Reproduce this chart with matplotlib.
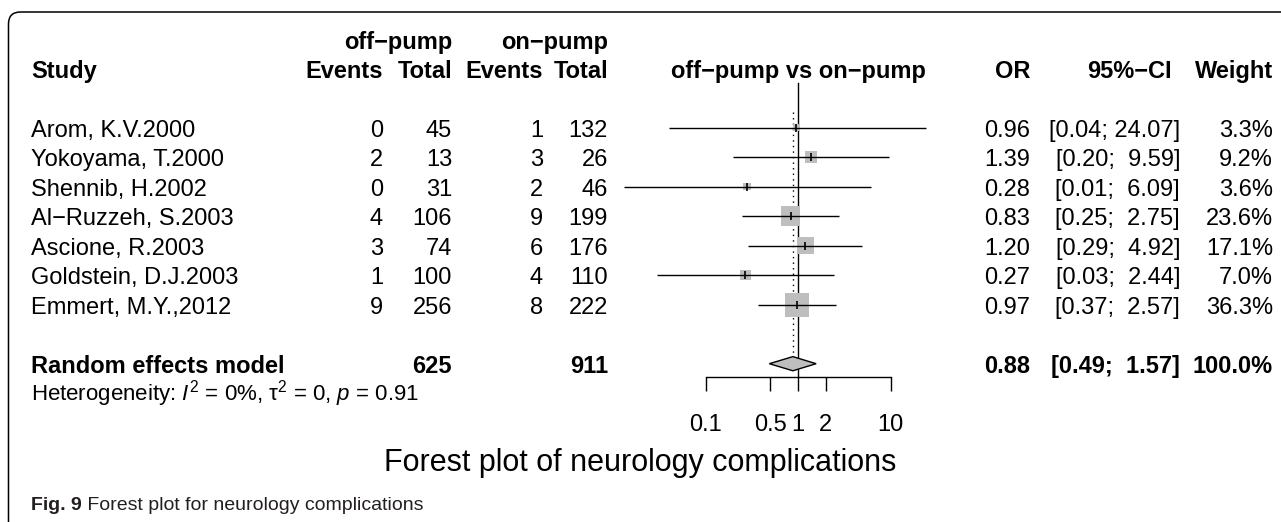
import numpy as np
import matplotlib
matplotlib.use("Agg")
import matplotlib.pyplot as plt
import matplotlib.transforms as mtransforms
from matplotlib.patches import FancyBboxPatch

plt.rcParams['font.family'] = ['Liberation Sans', 'DejaVu Sans']
plt.rcParams['mathtext.fontset'] = 'custom'
plt.rcParams['mathtext.rm'] = 'Liberation Sans'
plt.rcParams['mathtext.it'] = 'Liberation Sans:italic'
plt.rcParams['mathtext.bf'] = 'Liberation Sans:bold'

# data
studies = ["Arom, K.V.2000", "Yokoyama, T.2000", "Shennib, H.2002", "Al\u2212Ruzzeh, S.2003",
           "Ascione, R.2003", "Goldstein, D.J.2003", "Emmert, M.Y.,2012"]
ev_off = [0, 2, 0, 4, 3, 1, 9]
n_off = [45, 13, 31, 106, 74, 100, 256]
ev_on = [1, 3, 2, 9, 6, 4, 8]
n_on = [132, 26, 46, 199, 176, 110, 222]
odds = [0.96, 1.39, 0.28, 0.83, 1.20, 0.27, 0.97]
ci_lo = [0.04, 0.20, 0.013, 0.25, 0.29, 0.03, 0.37]
ci_hi = [24.07, 9.59, 6.09, 2.75, 4.92, 2.44, 2.57]
weight = [3.3, 9.2, 3.6, 23.6, 17.1, 7.0, 36.3]
pooled_or, pooled_lo, pooled_hi = 0.88, 0.49, 1.57
total_off, total_on = 625, 911
xticks = [0.1, 0.5, 1, 2, 10]
xtick_labels = ["0.1", "0.5", "1", "2", "10"]

W, H = 1281, 522
fig = plt.figure(figsize=(W / 100, H / 100), dpi=100)

# rows: pixel_y = 127.7 + 29.5*row
def py(row):
    return 127.7 + 29.5 * row

top_row, bot_row = -4, 13
ax_l, ax_r = 613, 983
ax = fig.add_axes([ax_l / W, 1 - py(bot_row) / H, (ax_r - ax_l) / W, (py(bot_row) - py(top_row)) / H])
ax.set_xscale('log')
ax.set_xlim(0.01, 100)
ax.set_ylim(bot_row, top_row)
ax.patch.set_visible(False)
for s in ['left', 'right', 'top']:
    ax.spines[s].set_visible(False)
ax.spines['bottom'].set_position(('data', 8.45))
ax.spines['bottom'].set_bounds(0.1, 10)
ax.spines['bottom'].set_linewidth(1.0)
ax.set_yticks([])
ax.set_xticks(xticks)
ax.set_xticklabels(xtick_labels)
ax.minorticks_off()
ax.tick_params(axis='x', direction='out', length=10, width=1.0, pad=17, labelsize=17)

rows = np.arange(len(studies))

# reference lines
ax.plot([1, 1], [-1.52, 8.45], color='black', lw=1.0)
ax.plot([pooled_or, pooled_or], [-0.53, 7.76], color='black', lw=1.0, ls=(0, (1, 3)))

# squares, CI lines, point marks
sides = 4 * np.sqrt(weight) * 0.72
ax.scatter(odds, rows, s=sides ** 2, marker='s', color='#bebebe', linewidths=0, zorder=2)
ax.hlines(rows, ci_lo, ci_hi, color='black', lw=1.0, zorder=3)
ax.plot(odds, rows, ls='none', marker='|', color='black', ms=6, mew=1.2, zorder=4)

# pooled diamond
re_row = 8
dh = 0.24
ax.fill([pooled_lo, pooled_or, pooled_hi, pooled_or], [re_row, re_row - dh, re_row, re_row + dh],
        facecolor='#bebebe', edgecolor='black', lw=1.0, zorder=3)

# text columns
tr = mtransforms.blended_transform_factory(fig.transFigure, ax.transData)
fs = 17

def put(px, row, s, ha='right', bold=False, size=fs, **kw):
    ax.text(px / W, row + 0.1, s, transform=tr, ha=ha, va='center', fontsize=size,
            fontweight='bold' if bold else 'normal', **kw)

x_study, x_ev1, x_n1, x_ev2, x_n2 = 31, 383, 452, 543, 608
x_or, x_ci, x_w = 1030, 1180, 1273

put(x_n1, -3, "off\u2212pump", bold=True)
put(x_n2, -3, "on\u2212pump", bold=True)
put(x_study, -2, "Study", ha='left', bold=True)
put(x_ev1, -2, "Events", bold=True)
put(x_n1, -2, "Total", bold=True)
put(x_ev2, -2, "Events", bold=True)
put(x_n2, -2, "Total", bold=True)
put(798, -2, "off\u2212pump vs on\u2212pump", ha='center', bold=True)
put(x_or, -2, "OR", bold=True)
put(1172, -2, "95%\u2212CI", bold=True)
put(x_w, -2, "Weight", bold=True)

for k in rows:
    put(x_study, k, studies[k], ha='left')
    put(x_ev1, k, str(ev_off[k]))
    put(x_n1, k, str(n_off[k]))
    put(x_ev2, k, str(ev_on[k]))
    put(x_n2, k, str(n_on[k]))
    put(x_or, k, f"{odds[k]:.2f}")
    put(x_ci, k, f"[{ci_lo[k]:.2f}; {ci_hi[k]:5.2f}]")
    put(x_w, k, f"{weight[k]:.1f}%")

put(x_study, re_row, "Random effects model", ha='left', bold=True)
put(x_n1, re_row, str(total_off), bold=True)
put(x_n2, re_row, str(total_on), bold=True)
put(x_or, re_row, f"{pooled_or:.2f}", bold=True)
put(x_ci, re_row, f"[{pooled_lo:.2f}; {pooled_hi:5.2f}]", bold=True)
put(x_w, re_row, "100.0%", bold=True)

put(x_study, 8.9, r"Heterogeneity: $I^2$ = 0%, τ$^2$ = 0, $p$ = 0.91", ha='left', size=16)

fig.text(640 / W, 1 - 463 / H, "Forest plot of neurology complications", ha='center', va='center', fontsize=22)

# caption
t1 = fig.text(31 / W, 1 - 505 / H, "Fig. 9", ha='left', va='center', fontsize=14,
              fontweight='bold', color='#231f20')
fig.canvas.draw()
bb = t1.get_window_extent(fig.canvas.get_renderer())
fig.text(bb.x1 / W, 1 - 505 / H, " Forest plot for neurology complications", ha='left', va='center',
         fontsize=14, color='#231f20')

# rounded border
box = FancyBboxPatch((8.5, -30), 1320, 540, boxstyle="round,pad=0,rounding_size=12",
                     transform=mtransforms.IdentityTransform(), fill=False, edgecolor='black', lw=1.1)
fig.add_artist(box)

fig.savefig("out.png", dpi=100)
